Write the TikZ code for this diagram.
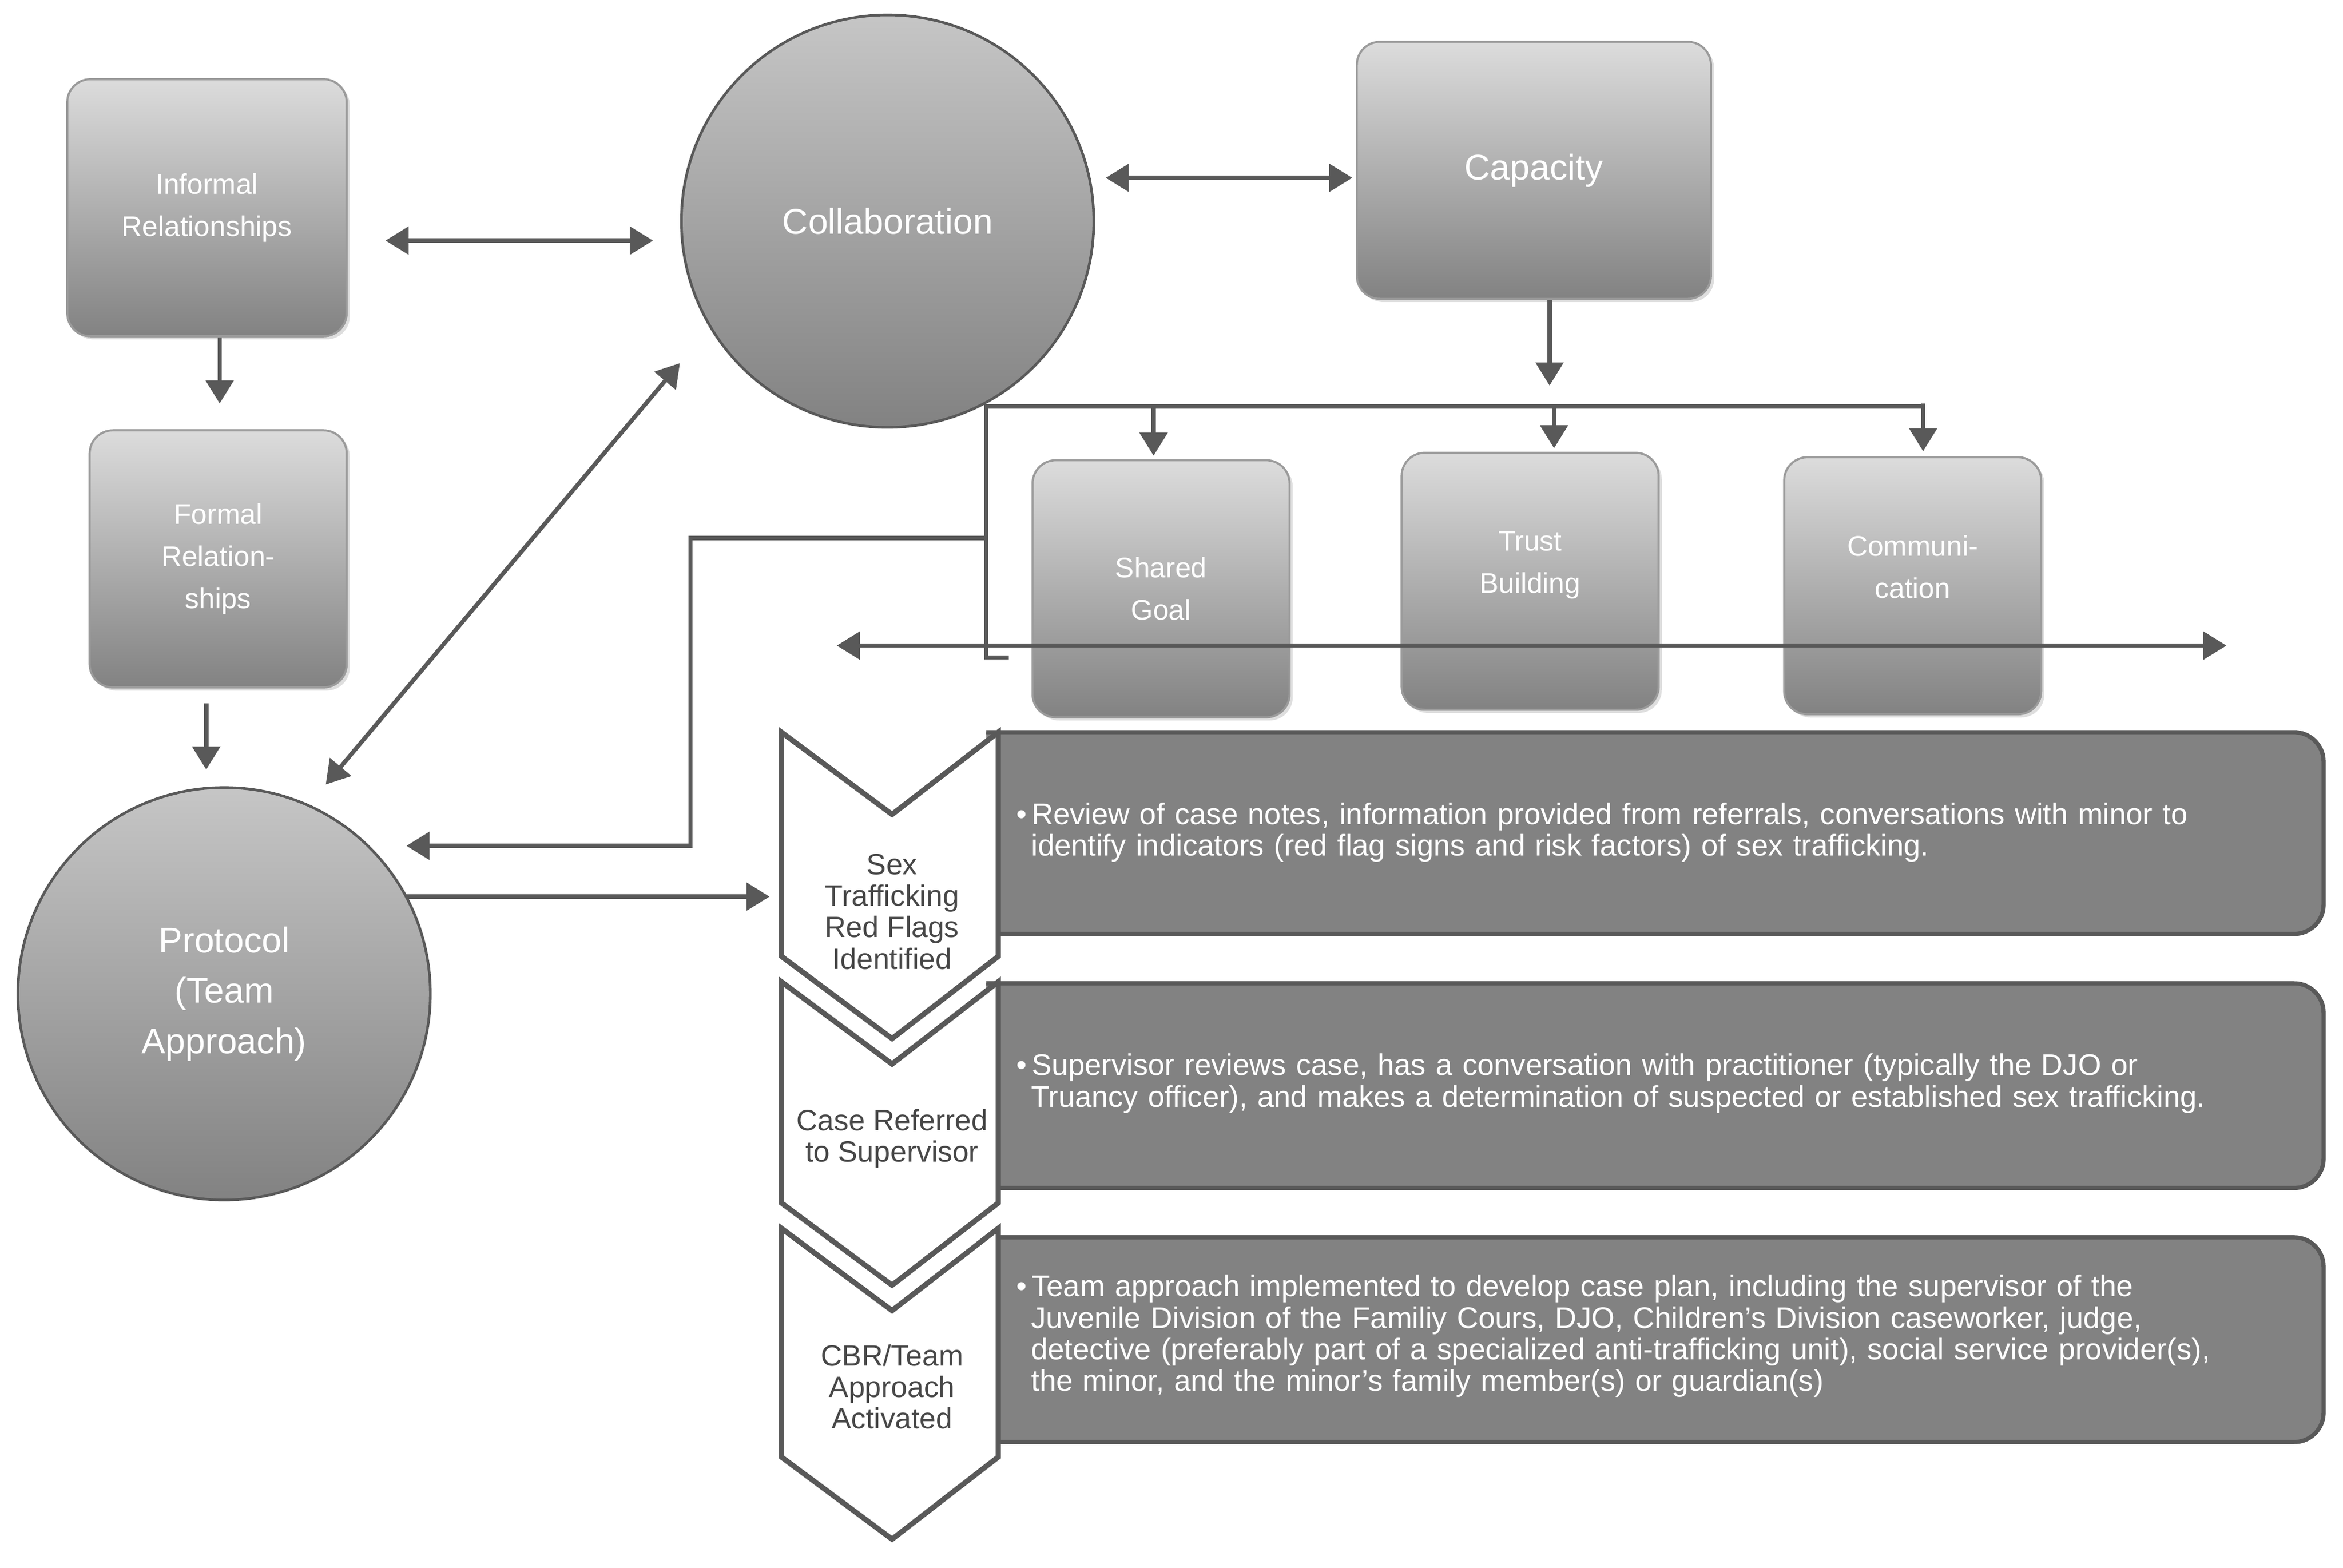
\documentclass[tikz,border=0pt]{standalone}
\usepackage{fontspec}
\setmainfont{Liberation Sans}
\usetikzlibrary{shadows,arrows.meta}
\definecolor{lt}{HTML}{DCDCDC}
\definecolor{dk}{HTML}{828282}
\definecolor{ln}{HTML}{595959}
\tikzset{
 box/.style={rounded corners=22, top color=lt, bottom color=dk, draw=ln!60, line width=2pt, drop shadow={shadow xshift=3pt,shadow yshift=-3pt,fill=gray!50}, text=white, align=center, font=\fontsize{27}{40}\selectfont},
 circ/.style={circle, top color=gray!45, bottom color=dk, draw=ln, line width=2.5pt, text=white, align=center},
 arr/.style={draw=ln, line width=4pt, -{Triangle[length=22pt,width=26pt]}},
 darr/.style={draw=ln, line width=4pt, {Triangle[length=22pt,width=26pt]}-{Triangle[length=22pt,width=26pt]}},
 chev/.style={fill=white, draw=ln, line width=5pt, line join=miter},
 rect/.style={fill=dk, draw=ln, line width=4pt, rounded corners=28},
 rtext/.style={anchor=north west, text=white, text width=45cm, align=left, font=\fontsize{28.5}{30}\selectfont, inner sep=0},
 ctext/.style={text=ln!80!black, align=center, font=\fontsize{28}{30}\selectfont, inner sep=0}
}
\begin{document}
\begin{tikzpicture}[x=0.05cm,y=-0.05cm]
\useasboundingbox (0,0) rectangle (1568,1049);
\fill[white] (0,0) rectangle (1568,1049);
% boxes
\node[box, minimum width=187*0.05cm, minimum height=172*0.05cm] (inf) at (138.5,139) {Informal\\Relationships};
\node[box, minimum width=172*0.05cm, minimum height=172*0.05cm] (for) at (146,374) {Formal\\Relation-\\ships};
\node[box, minimum width=237*0.05cm, minimum height=172*0.05cm, font=\fontsize{34}{40}\selectfont] (cap) at (1026.5,114) {Capacity};
\node[box, minimum width=172*0.05cm, minimum height=172*0.05cm] (sg) at (777,394) {Shared\\Goal};
\node[box, minimum width=172*0.05cm, minimum height=172*0.05cm] (tb) at (1024,389) {Trust\\Building\\[-4pt]};
\node[box, minimum width=172*0.05cm, minimum height=172*0.05cm] (cm) at (1280,392) {Communi-\\cation\\[-4pt]};
\node[circ, minimum size=276*0.05cm, font=\fontsize{34}{40}\selectfont] (col) at (594,148) {Collaboration};
\node[circ, minimum size=276*0.05cm, font=\fontsize{34}{48}\selectfont] (pro) at (150,665) {Protocol\\(Team\\Approach)};
% arrows
\coordinate (a1) at (258,161); \coordinate (a2) at (437,161);
\draw[darr] (a1) -- (a2);
\coordinate (b1) at (740,119); \coordinate (b2) at (905,119);
\draw[darr] (b1) -- (b2);
\draw[arr] (inf.south -| 147,0) -- (147,270);
\draw[arr] (for.south -| 138,0) ++(0,10) -- (138,515);
\coordinate (d1) at (218,525); \coordinate (d2) at (455,243);
\draw[darr] (d1) -- (d2);
\coordinate (cp) at (1037,258);
\draw[arr] (cap.south -| cp) -- (cp);
\draw[draw=ln, line width=4pt] (675,440) -- (660,440) -- (660,272) -- (1287,272);
\coordinate (s1) at (772,305); \coordinate (s2) at (1040,300); \coordinate (s3) at (1287,302);
\draw[arr] (772,272) -- (s1);
\draw[arr] (1040,272) -- (s2);
\draw[arr] (1287,270) -- (s3);
\coordinate (p1) at (660,360); \coordinate (p2) at (272,566);
\draw[arr] (p1) -- (462,360) -- (462,566) -- (p2);
\coordinate (h1) at (560,432); \coordinate (h2) at (1490,432);
\draw[darr] (h1) -- (h2);
% rectangles
\draw[rect] (660,490) -- (1555,490) -- (1555,625) -- (660,625);
\draw[rect] (660,658) -- (1555,658) -- (1555,795) -- (660,795);
\draw[rect] (660,828) -- (1555,828) -- (1555,965) -- (660,965);
% chevrons
\draw[chev] (523,490) -- (597,545) -- (668,490) -- (668,640) -- (597,695) -- (523,640) -- cycle;
\draw[chev] (523,657) -- (597,712) -- (668,657) -- (668,805) -- (597,860) -- (523,805) -- cycle;
\draw[chev] (523,822) -- (597,877) -- (668,822) -- (668,975) -- (597,1030) -- (523,975) -- cycle;
\coordinate (q1) at (272,600); \coordinate (q2) at (515,600);
\draw[arr] (q1) -- (q2);
\node[ctext] (c1) at (597,610) {Sex\\Trafficking\\Red Flags\\Identified};
\node[ctext] (c2) at (597,762) {Case Referred\\to Supervisor};
\node[ctext] (c3) at (597,928) {CBR/Team\\Approach\\Activated};
\node[rtext] (t1) at (680,537) {\textbullet\,Review of case notes, information provided from referrals, conversations with minor to\\ \hspace*{0.5cm}identify indicators (red flag signs and risk factors) of sex trafficking.};
\node[rtext] (t2) at (680,705) {\textbullet\,Supervisor reviews case, has a conversation with practitioner (typically the DJO or\\ \hspace*{0.5cm}Truancy officer), and makes a determination of suspected or established sex trafficking.};
\node[rtext] (t3) at (680,853) {\textbullet\,Team approach implemented to develop case plan, including the supervisor of the\\ \hspace*{0.5cm}Juvenile Division of the Familiy Cours, DJO, Children's Division caseworker, judge,\\ \hspace*{0.5cm}detective (preferably part of a specialized anti-trafficking unit), social service provider(s),\\ \hspace*{0.5cm}the minor, and the minor's family member(s) or guardian(s)};
\end{tikzpicture}
\end{document}
